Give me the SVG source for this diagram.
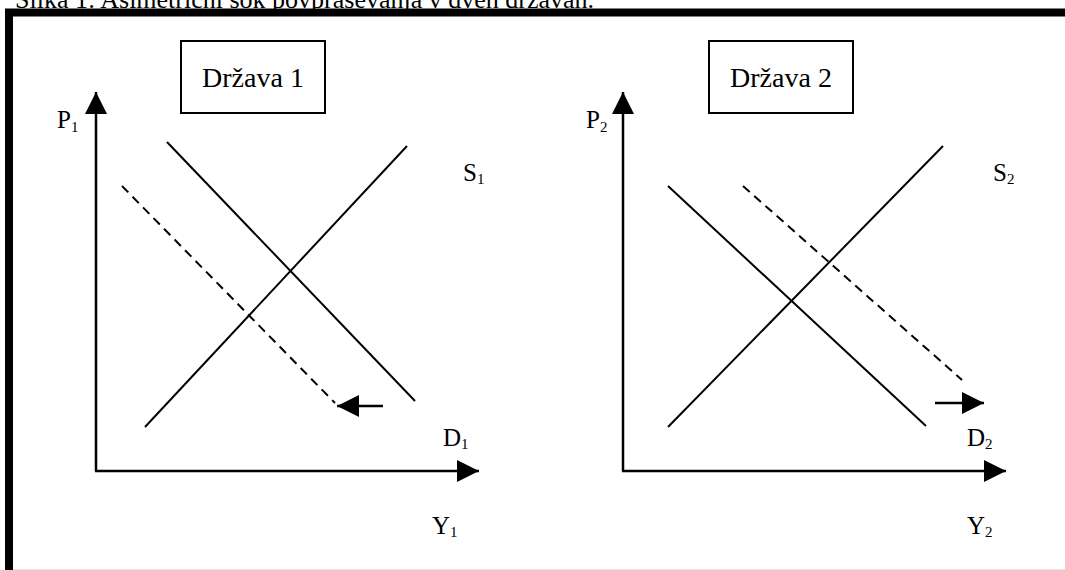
<svg xmlns="http://www.w3.org/2000/svg" width="1065" height="570" viewBox="0 0 1065 570">
<style>
text{font-family:"Liberation Serif","Times New Roman",serif;fill:#000}
.lbl{font-size:25px}
.sub{font-size:15px}
.title{font-size:26px}
.btxt{font-size:28px}
.box{fill:#fff;stroke:#000;stroke-width:2}
.ln{stroke:#000;stroke-width:2;fill:none}
.dash{stroke:#000;stroke-width:2;fill:none;stroke-dasharray:9,6}
.ax{stroke:#000;stroke-width:2.5;fill:none}
</style>
<defs>
<marker id="ah" markerUnits="userSpaceOnUse" markerWidth="22" markerHeight="22" viewBox="0 0 20 20" refX="20" refY="10" orient="auto">
<path d="M0,0 L20,10 L0,20 Z" fill="#000"/>
</marker>
</defs>
<rect width="1065" height="570" fill="#fff"/>
<text class="title" x="15" y="8">Slika 1: Asimetrični šok povpraševanja v dveh državah.</text>
<g id="frame">
<path d="M9,570 V12.5 H1065" fill="none" stroke="#000" stroke-width="8"/>
<line x1="13" y1="569.5" x2="1065" y2="569.5" stroke="#e6e6e6" stroke-width="1"/>
</g>
<g id="panel1">
<g id="box1"><rect class="box" x="181" y="41" width="144" height="72"/><text class="btxt" x="253" y="87" text-anchor="middle">Država 1</text></g>
<g id="labels1">
<text class="lbl" x="57" y="128">P<tspan class="sub" dy="4">1</tspan></text>
<text class="lbl" x="463" y="181">S<tspan class="sub" dy="3">1</tspan></text>
<text class="lbl" x="443" y="446">D<tspan class="sub" dy="3">1</tspan></text>
<text class="lbl" x="432" y="534">Y<tspan class="sub" dy="3">1</tspan></text>
</g>
</g>
<g id="panel2">
<g id="box2"><rect class="box" x="709" y="41" width="144" height="72"/><text class="btxt" x="781" y="87" text-anchor="middle">Država 2</text></g>
<g id="labels2">
<text class="lbl" x="586" y="128">P<tspan class="sub" dy="4">2</tspan></text>
<text class="lbl" x="993" y="181">S<tspan class="sub" dy="3">2</tspan></text>
<text class="lbl" x="967" y="446">D<tspan class="sub" dy="3">2</tspan></text>
<text class="lbl" x="967" y="534">Y<tspan class="sub" dy="3">2</tspan></text>
</g>
</g>
<g id="connectors">
<line class="ax" x1="96" y1="471" x2="96" y2="92" marker-end="url(#ah)"/>
<line class="ax" x1="95" y1="471" x2="479" y2="471" marker-end="url(#ah)"/>
<line class="ln" x1="145" y1="427" x2="407" y2="146"/>
<line class="ln" x1="167" y1="142" x2="415" y2="401"/>
<line class="dash" x1="122" y1="186" x2="335" y2="403"/>
<line class="ax" x1="383" y1="406" x2="337" y2="406" marker-end="url(#ah)"/>
<line class="ax" x1="623" y1="471" x2="623" y2="92" marker-end="url(#ah)"/>
<line class="ax" x1="622" y1="471" x2="1006" y2="471" marker-end="url(#ah)"/>
<line class="ln" x1="668" y1="427" x2="943" y2="146"/>
<line class="ln" x1="668" y1="186" x2="926" y2="426"/>
<line class="dash" x1="743" y1="186" x2="962" y2="380"/>
<line class="ax" x1="935" y1="403" x2="984" y2="403" marker-end="url(#ah)"/>
</g>
</svg>
